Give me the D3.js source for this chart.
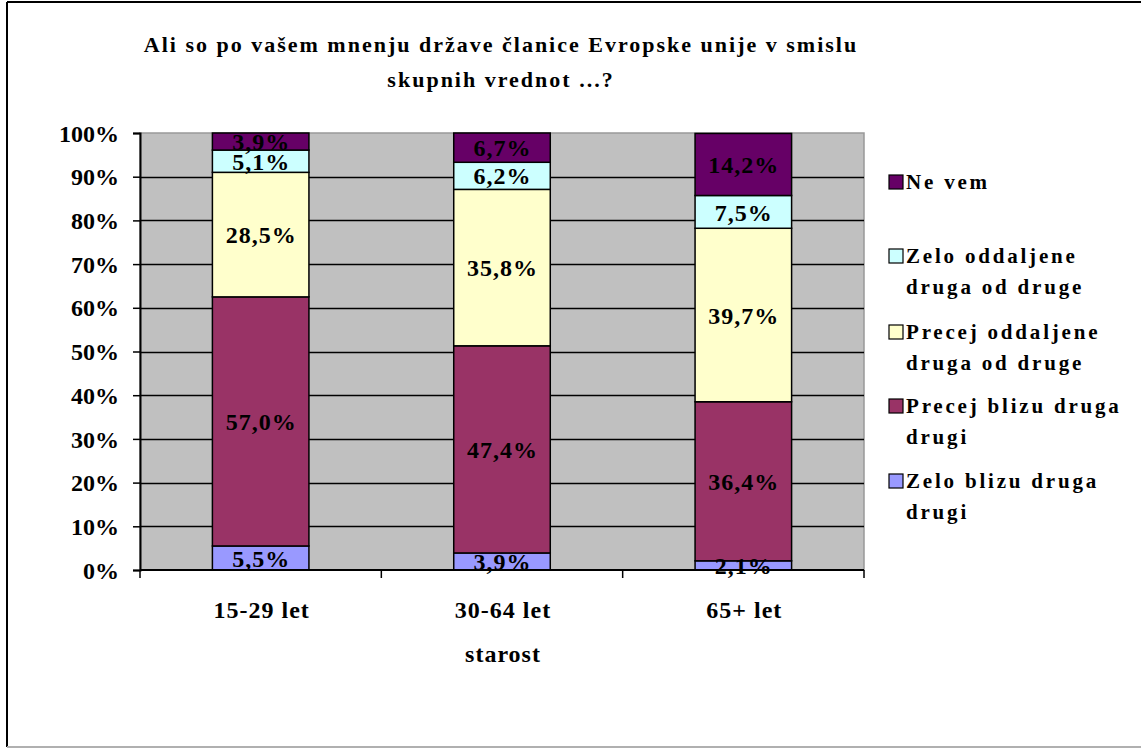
<!DOCTYPE html>
<html><head><meta charset="utf-8">
<script src="https://cdn.jsdelivr.net/npm/d3@7"></script>
<style>body{margin:0;background:#fff}svg{display:block}text{font-family:"Liberation Serif","Times New Roman",serif;font-weight:bold;fill:#000}</style>
</head><body>
<script>
const categories = ["15-29 let","30-64 let","65+ let"];
const seriesNames = ["Zelo blizu druga drugi","Precej blizu druga drugi","Precej oddaljene druga od druge","Zelo oddaljene druga od druge","Ne vem"];
const zeloBlizu = [5.5, 3.9, 2.1];
const precejBlizu = [57.0, 47.4, 36.4];
const precejOddaljene = [28.5, 35.8, 39.7];
const zeloOddaljene = [5.1, 6.2, 7.5];
const neVem = [3.9, 6.7, 14.2];
const yTicks = [0,10,20,30,40,50,60,70,80,90,100];
const colors = ["#9999FF","#993366","#FFFFCC","#CCFFFF","#660066"];
const legendLines = [["Ne vem"],["Zelo oddaljene","druga od druge"],["Precej oddaljene","druga od druge"],["Precej blizu druga","drugi"],["Zelo blizu druga","drugi"]];
const legendColors = ["#660066","#CCFFFF","#FFFFCC","#993366","#9999FF"];

const W=1141,H=749;
const svg=d3.select("body").append("svg").attr("width",W).attr("height",H);
// frame
svg.append("line").attr("x1",7).attr("y1",2).attr("x2",7).attr("y2",747).attr("stroke","#000").attr("stroke-width",2);
svg.append("line").attr("x1",7).attr("y1",2).attr("x2",1141).attr("y2",2).attr("stroke","#000").attr("stroke-width",2);
svg.append("line").attr("x1",7).attr("y1",747).attr("x2",1141).attr("y2",747).attr("stroke","#b0b0b0").attr("stroke-width",2);

const L=140,R=864,T=133,B=570;
const x=d3.scaleBand().domain(categories).range([L,R]).paddingInner(0.6).paddingOuter(0.3);
const y=d3.scaleLinear().domain([0,100]).range([B,T]);

svg.append("rect").attr("x",L).attr("y",T).attr("width",R-L).attr("height",B-T).attr("fill","#C0C0C0").attr("stroke","#999").attr("stroke-width",1.5);
// gridlines
svg.append("g").selectAll("line").data(yTicks.filter(d=>d>0&&d<100)).join("line")
 .attr("x1",L).attr("x2",R).attr("y1",d=>Math.round(y(d))+0.5).attr("y2",d=>Math.round(y(d))+0.5).attr("stroke","#000").attr("stroke-width",1.5);

const data=categories.map((c,i)=>({cat:c,vals:[zeloBlizu[i],precejBlizu[i],precejOddaljene[i],zeloOddaljene[i],neVem[i]]}));
const stack=d3.stack().keys([0,1,2,3,4]).value((d,k)=>d.vals[k]);
const stacked=stack(data);
const gBars=svg.append("g");
stacked.forEach((s,k)=>{
  gBars.selectAll(null).data(s).join("rect")
   .attr("x",d=>x(d.data.cat)).attr("width",x.bandwidth())
   .attr("y",d=>y(d[1])).attr("height",d=>y(d[0])-y(d[1]))
   .attr("fill",colors[k]).attr("stroke","#000").attr("stroke-width",1.5);
});
stacked.forEach((s,k)=>{
  svg.append("g").selectAll("text").data(s).join("text")
   .attr("x",d=>x(d.data.cat)+x.bandwidth()/2+0.5).attr("y",d=>(y(d[0])+y(d[1]))/2)
   .attr("text-anchor","middle").attr("dy","0.36em").attr("font-size",24).attr("letter-spacing","1px")
   .text(d=>d.data.vals[k].toFixed(1).replace(".",",")+"%");
});

// axes
const yAxis=d3.axisLeft(y).tickValues(yTicks).tickFormat(d=>d+"%").tickSize(7).tickPadding(14);
const gy=svg.append("g").attr("transform",`translate(${L},0)`).call(yAxis);
gy.select(".domain").attr("stroke","#000").attr("stroke-width",2);
gy.selectAll(".tick line").attr("stroke","#000").attr("stroke-width",1.5);
gy.selectAll("text").attr("font-size",24).attr("fill","#000").attr("dy","0.34em").style("font-family",'"Liberation Serif",serif').style("font-weight","bold");

svg.append("line").attr("x1",L).attr("x2",R).attr("y1",B).attr("y2",B).attr("stroke","#000").attr("stroke-width",2);
const xt=[L,L+(R-L)/3,L+2*(R-L)/3,R];
svg.append("g").selectAll("line").data(xt).join("line").attr("x1",d=>d).attr("x2",d=>d).attr("y1",B).attr("y2",B+8).attr("stroke","#000").attr("stroke-width",1.5);
svg.append("g").selectAll("text").data(categories).join("text")
 .attr("x",d=>x(d)+x.bandwidth()/2+1).attr("y",618).attr("text-anchor","middle").attr("font-size",24).attr("letter-spacing","1px").text(d=>d);
svg.append("text").attr("x",503).attr("y",662).attr("text-anchor","middle").attr("font-size",24).attr("letter-spacing","1px").text("starost");

// title
svg.append("text").attr("x",501).attr("y",52).attr("text-anchor","middle").attr("font-size",22).attr("letter-spacing","2px").text("Ali so po vašem mnenju države članice Evropske unije v smislu");
svg.append("text").attr("x",501).attr("y",87).attr("text-anchor","middle").attr("font-size",22).attr("letter-spacing","2px").text("skupnih vrednot ...?");

// legend
const legY=[182,256,332,406,481];
legendLines.forEach((lines,i)=>{
  svg.append("rect").attr("x",889).attr("y",legY[i]-7).attr("width",14).attr("height",14).attr("fill",legendColors[i]).attr("stroke","#000").attr("stroke-width",1.2);
  lines.forEach((t,j)=>{
    svg.append("text").attr("x",906).attr("y",legY[i]+j*31).attr("dy","0.35em").attr("font-size",21).attr("letter-spacing","2.8px").text(t);
  });
});
</script>
</body></html>
